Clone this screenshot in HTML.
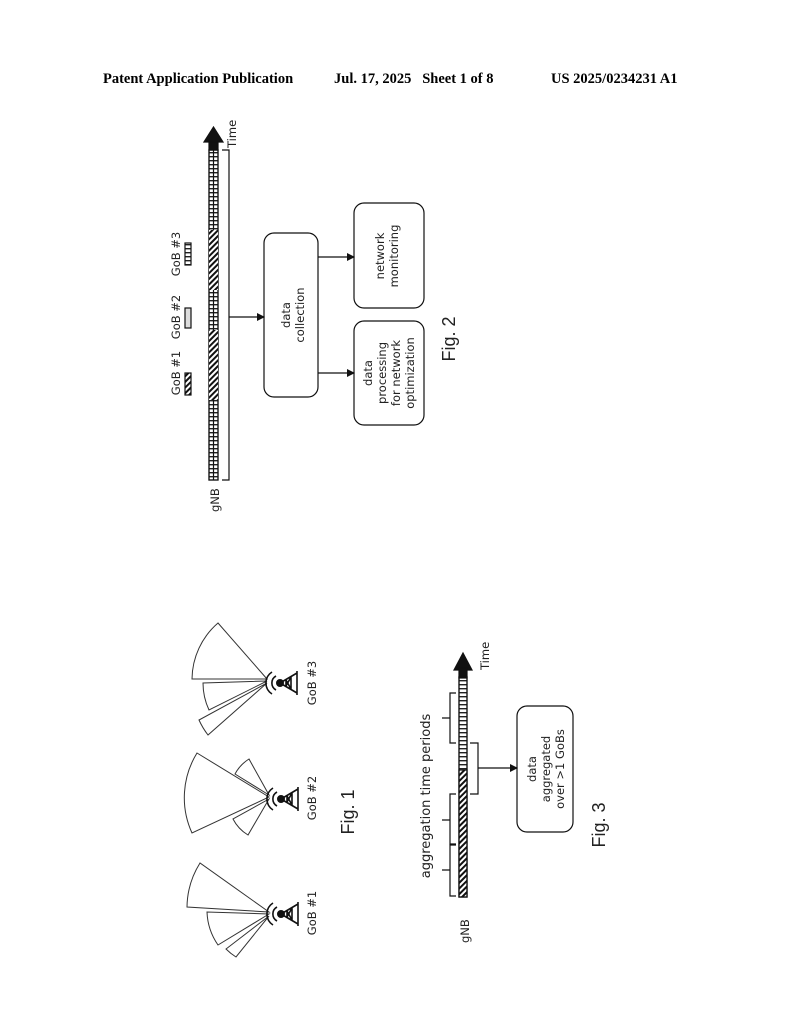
<!DOCTYPE html>
<html><head><meta charset="utf-8"><style>
html,body{margin:0;padding:0;background:#fff}
svg{display:block}
.h{font-family:"Liberation Serif",serif;font-weight:bold;font-size:14.5px}
.s{font-family:"DejaVu Sans","Liberation Sans",sans-serif;font-size:11.5px;fill:#222}
.c{font-family:"Liberation Sans",sans-serif;font-size:18px;fill:#222}
</style></head><body>
<svg width="794" height="1024" viewBox="0 0 794 1024" xmlns="http://www.w3.org/2000/svg">
<defs>
<pattern id="hat" width="4" height="4" patternUnits="userSpaceOnUse" patternTransform="rotate(45)">
<rect width="4" height="4" fill="#fff"/><rect width="2" height="4" fill="#111"/></pattern>
<pattern id="tk" width="9" height="4" patternUnits="userSpaceOnUse">
<rect width="9" height="4" fill="#fff"/><rect y="0" width="9" height="1.4" fill="#222"/></pattern>
<marker id="ar" markerWidth="8" markerHeight="8" refX="7" refY="4" orient="auto" markerUnits="userSpaceOnUse">
<path d="M0,0 L8,4 L0,8 Z" fill="#111"/></marker>
</defs>
<rect width="794" height="1024" fill="#fff"/>
<text class="h" x="103" y="83">Patent Application Publication</text>
<text class="h" x="334" y="83">Jul. 17, 2025&#160;&#160; Sheet 1 of 8</text>
<text class="h" x="551" y="83">US 2025/0234231 A1</text>

<!-- Fig 2 -->
<g stroke="#111" fill="none" stroke-width="1.2">
<rect x="209" y="150" width="9" height="330" fill="url(#tk)"/>
<rect x="209" y="150" width="9" height="330"/>
<line x1="213.5" y1="150" x2="213.5" y2="480"/>
<rect x="209" y="330" width="9" height="70" fill="url(#hat)" stroke="none"/>
<rect x="209" y="230" width="9" height="60" fill="url(#hat)" stroke="none"/>
<path d="M209,140 L218,140 L218,150 L209,150Z" fill="#111"/>
<path d="M204,142 L213.5,127 L223,142Z" fill="#111"/>
<path d="M222,150 L229,150 L229,480 L222,480"/>
<line x1="229" y1="317" x2="264" y2="317" marker-end="url(#ar)"/>
<rect x="264" y="233" width="54" height="164" rx="10"/>
<line x1="318" y1="257" x2="354" y2="257" marker-end="url(#ar)"/>
<line x1="318" y1="373" x2="354" y2="373" marker-end="url(#ar)"/>
<rect x="354" y="203" width="70" height="105" rx="10"/>
<rect x="354" y="321" width="70" height="104" rx="10"/>
<rect x="185" y="373" width="6" height="22" fill="url(#hat)"/>
<rect x="185" y="308" width="6" height="20" fill="#ddd"/>
<rect x="185" y="243" width="6" height="22" fill="url(#tk)"/>
</g>
<g class="s">
<text transform="translate(236,148) rotate(-90)">Time</text>
<text transform="translate(219,512) rotate(-90)">gNB</text>
<text transform="translate(180,373) rotate(-90)" text-anchor="middle">GoB #1</text>
<text transform="translate(180,317) rotate(-90)" text-anchor="middle">GoB #2</text>
<text transform="translate(180,254) rotate(-90)" text-anchor="middle">GoB #3</text>
<text transform="translate(290,315) rotate(-90)" text-anchor="middle">data</text>
<text transform="translate(304,315) rotate(-90)" text-anchor="middle">collection</text>
<text transform="translate(384,256) rotate(-90)" text-anchor="middle">network</text>
<text transform="translate(398,256) rotate(-90)" text-anchor="middle">monitoring</text>
<text transform="translate(372,373) rotate(-90)" text-anchor="middle">data</text>
<text transform="translate(386,373) rotate(-90)" text-anchor="middle">processing</text>
<text transform="translate(400,373) rotate(-90)" text-anchor="middle">for network</text>
<text transform="translate(414,373) rotate(-90)" text-anchor="middle">optimization</text>
</g>
<text class="c" transform="translate(455,339) rotate(-90)" text-anchor="middle">Fig. 2</text>

<!-- Fig 1 -->
<g stroke="#333" fill="#fff" stroke-width="1">
<path d="M267,679 L218,623 A75,75 0 0 0 192,679 Z"/>
<path d="M267,681 L203,683 A64,64 0 0 0 209,710 Z"/>
<path d="M267,683 L199,720 A75,75 0 0 0 208,735 Z"/>
<path d="M269,797 L197,753 A85,85 0 0 0 192,833 Z"/>
<path d="M269,795 L235,774 A40,40 0 0 1 249,759 Z"/>
<path d="M269,799 L233,819 A40,40 0 0 0 248,835 Z"/>
<path d="M269,912 L200,863 A85,85 0 0 0 187,907 Z"/>
<path d="M269,914 L207,912 A62,62 0 0 0 218,945 Z"/>
<path d="M269,916 L226,949 A55,55 0 0 0 236,957 Z"/>
</g>
<g stroke="#111" fill="none" stroke-width="1.6">
<g id="tw">
<circle cx="280" cy="683" r="3.2" fill="#111"/>
<path d="M280,683 L297,673 M280,683 L297,693 M286,679.5 L286,686.5 M291,676.5 L291,689.5 M286,680 L291,689 M286,686 L291,677 M297,671 L297,695"/>
<path d="M276,676 A8,8 0 0 0 276,690 M272,672 A13,13 0 0 0 272,694"/>
</g>
<use href="#tw" transform="translate(1,116)"/>
<use href="#tw" transform="translate(1,231)"/>
</g>
<g class="s">
<text transform="translate(316,683) rotate(-90)" text-anchor="middle">GoB #3</text>
<text transform="translate(316,798) rotate(-90)" text-anchor="middle">GoB #2</text>
<text transform="translate(316,913) rotate(-90)" text-anchor="middle">GoB #1</text>
</g>
<text class="c" transform="translate(354,812) rotate(-90)" text-anchor="middle">Fig. 1</text>

<!-- Fig 3 -->
<g stroke="#111" fill="none" stroke-width="1.2">
<rect x="459" y="677" width="8" height="220" fill="url(#tk)"/>
<rect x="459" y="770" width="8" height="127" fill="url(#hat)"/>
<rect x="459" y="677" width="8" height="220"/>
<path d="M454,670 L463,653 L472,670Z" fill="#111"/>
<rect x="459" y="668" width="8" height="10" fill="#111"/>
<path d="M456,896 L450,896 L450,845 L456,845 M450,870 L442,870"/>
<path d="M456,844 L450,844 L450,794 L456,794 M450,820 L442,820"/>
<path d="M456,743 L450,743 L450,693 L456,693 M450,718 L442,718"/>
<path d="M470,794 L478,794 L478,743 L470,743"/>
<line x1="478" y1="768" x2="517" y2="768" marker-end="url(#ar)"/>
<rect x="517" y="706" width="56" height="126" rx="10"/>
</g>
<g class="s">
<text transform="translate(430,796) rotate(-90)" text-anchor="middle" style="font-size:13px">aggregation time periods</text>
<text transform="translate(489,670) rotate(-90)">Time</text>
<text transform="translate(469,943) rotate(-90)">gNB</text>
<text transform="translate(536,769) rotate(-90)" text-anchor="middle">data</text>
<text transform="translate(550,769) rotate(-90)" text-anchor="middle">aggregated</text>
<text transform="translate(564,769) rotate(-90)" text-anchor="middle">over &gt;1 GoBs</text>
</g>
<text class="c" transform="translate(605,825) rotate(-90)" text-anchor="middle">Fig. 3</text>
</svg>
</body></html>
